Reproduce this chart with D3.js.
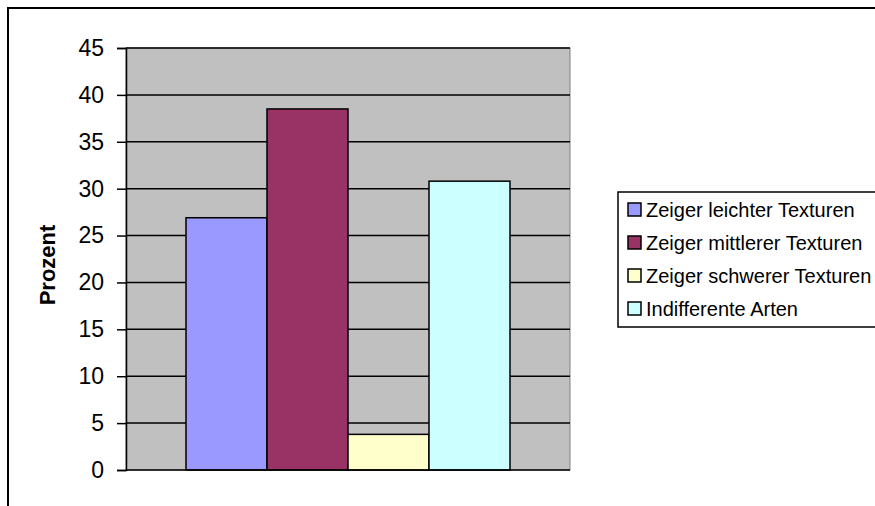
<!DOCTYPE html>
<html>
<head>
<meta charset="utf-8">
<script src="https://cdn.jsdelivr.net/npm/d3@7"></script>
<style>
  html, body { margin: 0; background: #fff; overflow: hidden; }
  svg { display: block; }
  text { font-family: "Liberation Sans", Arial, sans-serif; }
</style>
</head>
<body>
<svg id="chart" width="875" height="506"></svg>
<script>
// chart data
var series = ["Zeiger leichter Texturen", "Zeiger mittlerer Texturen",
              "Zeiger schwerer Texturen", "Indifferente Arten"];
var values = [26.9, 38.5, 3.8, 30.8];
var colors = ["#9999FF", "#993366", "#FFFFCC", "#CCFFFF"];
var yTicks = [0, 5, 10, 15, 20, 25, 30, 35, 40, 45];
var yTitle = "Prozent";

var svg = d3.select("#chart");

// outer chart frame (runs off the right and bottom edge)
svg.append("rect")
  .attr("x", 8).attr("y", 8)
  .attr("width", 900).attr("height", 520)
  .style("fill", "#fff").style("stroke", "#000").style("stroke-width", 2);

var plot = {left: 126, top: 48, right: 570, bottom: 470};

var y = d3.scaleLinear().domain([0, 45]).range([plot.bottom, plot.top]);
var x = d3.scaleBand().domain(series)
  .range([plot.left + 60, plot.right - 60]);

// plot area
svg.append("rect")
  .attr("x", plot.left).attr("y", plot.top)
  .attr("width", plot.right - plot.left).attr("height", plot.bottom - plot.top)
  .style("fill", "#C0C0C0").style("stroke", "#808080").style("stroke-width", 1);

// gridlines
svg.append("g").selectAll("line")
  .data(yTicks.filter(function(d) { return d > 0; }))
  .enter().append("line")
    .attr("x1", plot.left).attr("x2", plot.right)
    .attr("y1", function(d) { return y(d); })
    .attr("y2", function(d) { return y(d); })
    .style("stroke", "#000").style("stroke-width", 1.5);

// bars
svg.append("g").selectAll("rect")
  .data(values)
  .enter().append("rect")
    .attr("x", function(d, i) { return x(series[i]); })
    .attr("y", function(d) { return y(d); })
    .attr("width", x.bandwidth())
    .attr("height", function(d) { return y(0) - y(d); })
    .style("fill", function(d, i) { return colors[i]; })
    .style("stroke", "#000").style("stroke-width", 1.5);

// y axis
var yAxis = svg.append("g")
  .attr("transform", "translate(" + plot.left + ",0)")
  .call(d3.axisLeft(y).tickValues(yTicks).tickSize(9).tickPadding(13));
yAxis.select(".domain").style("stroke", "#000").style("stroke-width", 1.5);
yAxis.selectAll(".tick line").style("stroke", "#000").style("stroke-width", 1.5);
yAxis.selectAll(".tick text")
  .style("font-size", "23px").style("fill", "#000")
  .style("font-family", "'Liberation Sans', Arial, sans-serif");

// x axis baseline
svg.append("line")
  .attr("x1", plot.left).attr("x2", plot.right)
  .attr("y1", y(0)).attr("y2", y(0))
  .style("stroke", "#000").style("stroke-width", 1.5);

svg.append("text")
  .attr("transform", "translate(55," + 265 + ") rotate(-90)")
  .attr("text-anchor", "middle")
  .style("font-size", "22px").style("font-weight", "bold")
  .text(yTitle);

// legend
var legend = svg.append("g").attr("transform", "translate(618,192)");
legend.append("rect")
  .attr("width", 280).attr("height", 135)
  .style("fill", "#fff").style("stroke", "#000").style("stroke-width", 1.5);
var item = legend.selectAll(".item")
  .data(series)
  .enter().append("g")
    .attr("class", "item")
    .attr("transform", function(d, i) { return "translate(0," + (18 + i * 33) + ")"; });
item.append("rect")
  .attr("x", 10).attr("y", -7).attr("width", 13).attr("height", 13)
  .style("fill", function(d, i) { return colors[i]; })
  .style("stroke", "#000").style("stroke-width", 1.5);
item.append("text")
  .attr("x", 28).attr("dy", "0.36em")
  .style("font-size", "20px")
  .text(function(d) { return d; });
</script>
</body>
</html>
